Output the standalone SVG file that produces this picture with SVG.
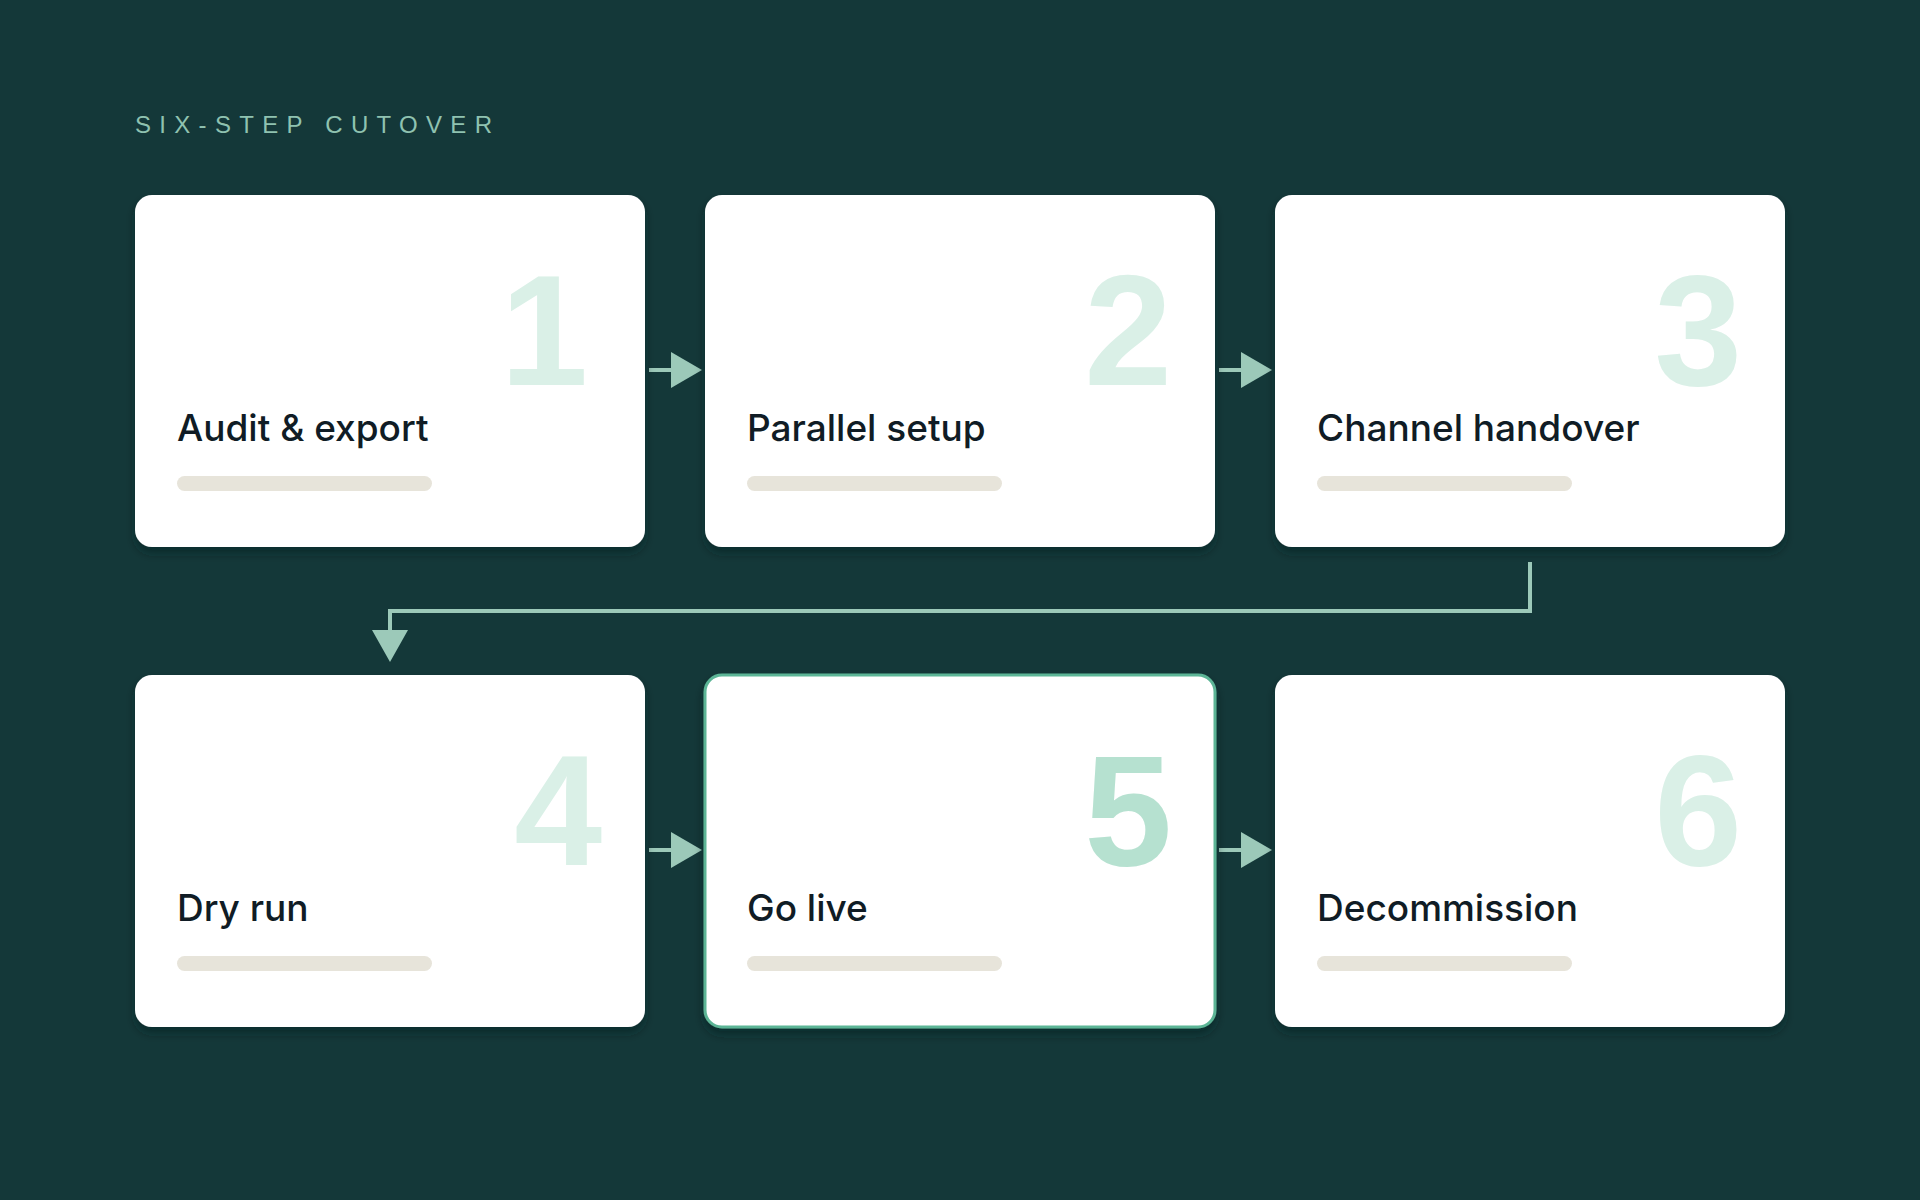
<svg xmlns="http://www.w3.org/2000/svg" width="1920" height="1200" viewBox="0 0 1920 1200">
<defs>
<style>
.card{fill:#ffffff;filter:url(#sh)}
.num{font-family:"Liberation Sans",Arial,sans-serif;font-weight:bold;font-size:158px;fill:#daf0e7;text-anchor:end}
.lbl{font-family:"Inter","Liberation Sans",sans-serif;font-weight:500;font-size:37px;fill:#101c25}
.bar{fill:#e7e4da}
.conn{stroke:#9cc9b9;stroke-width:4;fill:none}
.head{fill:#9cc9b9}
</style>
<filter id="sh" x="-10%" y="-10%" width="120%" height="130%">
<feDropShadow dx="0" dy="6" stdDeviation="5" flood-color="#061a1a" flood-opacity="0.5"/>
</filter>
</defs>
<rect width="1920" height="1200" fill="#143839"/>
<text x="135" y="133" font-family="Liberation Sans, Arial, sans-serif" font-size="24" letter-spacing="8.3" fill="#8fc2b0">SIX-STEP CUTOVER</text>
<g id="connectors">
<line class="conn" x1="649" y1="370" x2="673" y2="370"/><polygon class="head" points="671,352 702,370 671,388"/>
<line class="conn" x1="1219" y1="370" x2="1243" y2="370"/><polygon class="head" points="1241,352 1272,370 1241,388"/>
<polyline class="conn" points="1530,562 1530,611 390,611 390,632"/><polygon class="head" points="372,630 408,630 390,662"/>
<line class="conn" x1="649" y1="850" x2="673" y2="850"/><polygon class="head" points="671,832 702,850 671,868"/>
<line class="conn" x1="1219" y1="850" x2="1243" y2="850"/><polygon class="head" points="1241,832 1272,850 1241,868"/>
</g>
<g id="n1"><rect class="card" x="135" y="195" width="510" height="352" rx="17"/><text class="num" x="588" y="385">1</text><text class="lbl" x="177" y="441">Audit &amp; export</text><rect class="bar" x="177" y="476" width="255" height="15" rx="7.5"/></g>
<g id="n2"><rect class="card" x="705" y="195" width="510" height="352" rx="17"/><text class="num" x="1172" y="385">2</text><text class="lbl" x="747" y="441">Parallel setup</text><rect class="bar" x="747" y="476" width="255" height="15" rx="7.5"/></g>
<g id="n3"><rect class="card" x="1275" y="195" width="510" height="352" rx="17"/><text class="num" x="1742" y="385">3</text><text class="lbl" x="1317" y="441">Channel handover</text><rect class="bar" x="1317" y="476" width="255" height="15" rx="7.5"/></g>
<g id="n4"><rect class="card" x="135" y="675" width="510" height="352" rx="17"/><text class="num" x="602" y="865">4</text><text class="lbl" x="177" y="921">Dry run</text><rect class="bar" x="177" y="956" width="255" height="15" rx="7.5"/></g>
<g id="n5"><rect class="card" x="705" y="675" width="510" height="352" rx="17" stroke="#5cb596" stroke-width="3"/><text class="num" x="1172" y="865" style="fill:#b6e1d0">5</text><text class="lbl" x="747" y="921">Go live</text><rect class="bar" x="747" y="956" width="255" height="15" rx="7.5"/></g>
<g id="n6"><rect class="card" x="1275" y="675" width="510" height="352" rx="17"/><text class="num" x="1742" y="865">6</text><text class="lbl" x="1317" y="921">Decommission</text><rect class="bar" x="1317" y="956" width="255" height="15" rx="7.5"/></g>
</svg>
